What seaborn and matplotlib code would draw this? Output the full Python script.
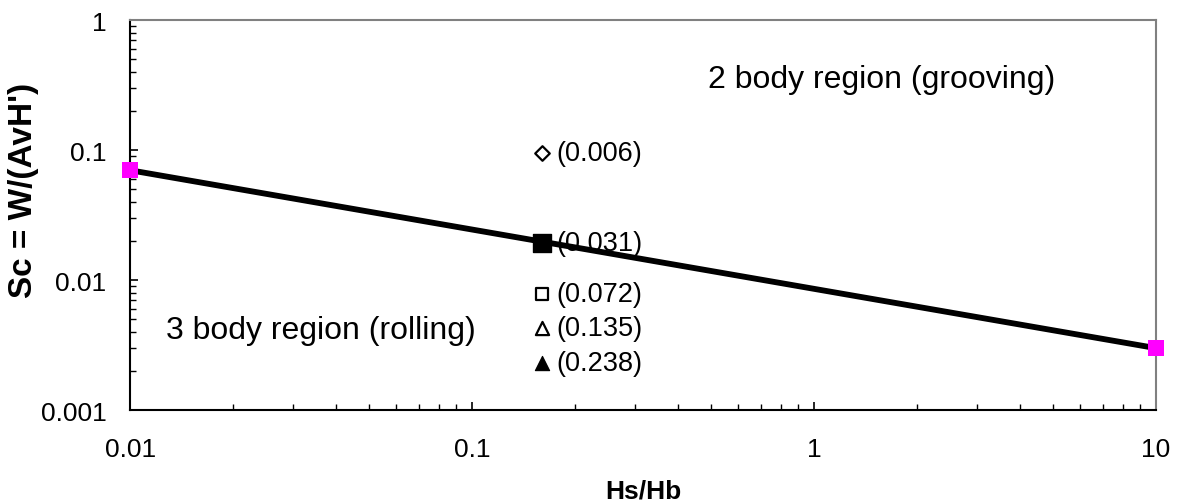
import matplotlib
matplotlib.use("Agg")
import matplotlib.pyplot as plt
import seaborn as sns
import pandas as pd
import numpy as np
from matplotlib.ticker import LogLocator, NullFormatter, FixedLocator, FixedFormatter

sns.set_theme(style="white")
plt.rcParams['font.family'] = ['Liberation Sans', 'DejaVu Sans']
plt.rcParams['text.color'] = 'black'
plt.rcParams['axes.labelcolor'] = 'black'
plt.rcParams['xtick.color'] = 'black'
plt.rcParams['ytick.color'] = 'black'

# Boundary line
line_x = [0.01, 10]
line_y = [0.07, 0.003]

# Data points (labels in parentheses)
pt_x = [0.16, 0.16, 0.16, 0.16, 0.16]
pt_y = [0.095, 0.0193, 0.0078, 0.0043, 0.0023]
pt_labels = ["(0.006)", "(0.031)", "(0.072)", "(0.135)", "(0.238)"]
pt_markers = ["D", "s", "s", "^", "^"]
pt_filled = [False, True, False, False, True]
pt_sizes = [55, 150, 85, 90, 105]

xticks = [0.01, 0.1, 1, 10]
xticklabels = ["0.01", "0.1", "1", "10"]
yticks = [0.001, 0.01, 0.1, 1]
yticklabels = ["0.001", "0.01", "0.1", "1"]

fig = plt.figure(figsize=(11.83, 5.02), dpi=100)
ax = fig.add_axes([0.110, 0.181, 0.867, 0.777])

df_line = pd.DataFrame({"x": line_x, "y": line_y})
sns.lineplot(data=df_line, x="x", y="y", ax=ax, color="black", linewidth=4.2,
             zorder=3)
sns.scatterplot(data=df_line, x="x", y="y", ax=ax, marker="s", s=130,
                color="#ff00ff", edgecolor="none", zorder=4, clip_on=False)

for x, y, m, f, s, lab in zip(pt_x, pt_y, pt_markers, pt_filled, pt_sizes, pt_labels):
    d = pd.DataFrame({"x": [x], "y": [y]})
    if f:
        sns.scatterplot(data=d, x="x", y="y", ax=ax, marker=m, s=s,
                        color="black", edgecolor="black", zorder=5)
    else:
        sns.scatterplot(data=d, x="x", y="y", ax=ax, marker=m, s=s,
                        facecolor="white", edgecolor="black", linewidth=1.6, zorder=5)
    ax.text(x * 1.1, y, lab, fontsize=19.5, va="center", ha="left", zorder=6,
            color="black")

ax.text(0.49, 0.35, "2 body region (grooving)", fontsize=23, va="center", ha="left",
        color="black")
ax.text(0.0127, 0.0041, "3 body region (rolling)", fontsize=23, va="center", ha="left",
        color="black")

ax.set_xscale("log")
ax.set_yscale("log")
ax.set_xlim(0.01, 10)
ax.set_ylim(0.001, 1)

ax.xaxis.set_major_locator(FixedLocator(xticks))
ax.xaxis.set_major_formatter(FixedFormatter(xticklabels))
ax.yaxis.set_major_locator(FixedLocator(yticks))
ax.yaxis.set_major_formatter(FixedFormatter(yticklabels))
ax.xaxis.set_minor_locator(LogLocator(base=10, subs=np.arange(2, 10), numticks=20))
ax.yaxis.set_minor_locator(LogLocator(base=10, subs=np.arange(2, 10), numticks=20))
ax.xaxis.set_minor_formatter(NullFormatter())
ax.yaxis.set_minor_formatter(NullFormatter())

ax.tick_params(axis="both", which="major", direction="in", length=6, width=1.2,
               color="black", labelsize=19, labelcolor="black", bottom=True, left=True)
ax.tick_params(axis="both", which="minor", direction="in", length=4.3, width=1,
               color="black", bottom=True, left=True)
ax.tick_params(axis="x", which="major", pad=19)
ax.tick_params(axis="y", which="major", pad=17)

ax.set_xlabel("Hs/Hb", fontsize=19, fontweight="bold", color="black")
ax.set_ylabel("Sc = W/(AvH')", fontsize=24, fontweight="bold", color="black")
ax.xaxis.set_label_coords(0.5, -0.175)
ax.yaxis.set_label_coords(-0.089, 0.567)

for side in ["left", "bottom"]:
    ax.spines[side].set_color("black")
    ax.spines[side].set_linewidth(1.5)
for side in ["top", "right"]:
    ax.spines[side].set_color("#808080")
    ax.spines[side].set_linewidth(1.5)
    ax.spines[side].set_visible(True)

ax.grid(False)
fig.savefig("out.png", dpi=100, facecolor="white")
